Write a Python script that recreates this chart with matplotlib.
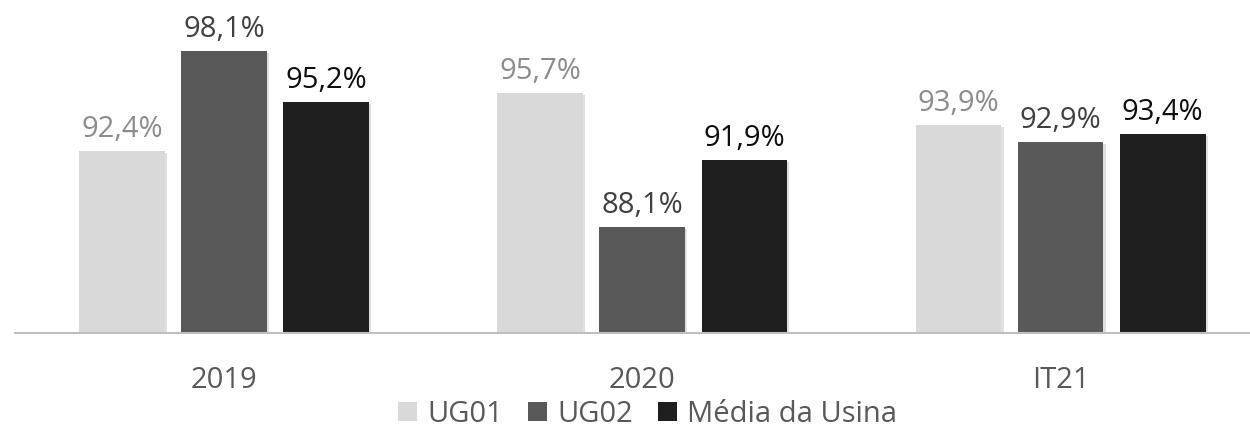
import numpy as np
import matplotlib.pyplot as plt
import matplotlib.patheffects as pe
from matplotlib.patches import Patch

plt.rcParams['font.family'] = ['Open Sans', 'DejaVu Sans']

categories = ['2019', '2020', 'IT21']
series_names = ['UG01', 'UG02', 'Média da Usina']
ug01 = [92.4, 95.7, 93.9]
ug02 = [98.1, 88.1, 92.9]
media = [95.2, 91.9, 93.4]

bar_colors = ['#d9d9d9', '#595959', '#1f1f1f']
label_colors = ['#8c8c8c', '#404040', '#0d0d0d']

fig = plt.figure(figsize=(12.5, 4.3), dpi=100)
ax = fig.add_axes([0.012, 0.2267, 0.988, 0.959 - 0.2267])

x = np.arange(len(categories))
width = 0.205
offsets = [-0.244, 0, 0.244]
shadow = [pe.SimplePatchShadow(offset=(1.5, -1.5), shadow_rgbFace='#000000', alpha=0.12), pe.Normal()]

for vals, off, col, lcol in zip([ug01, ug02, media], offsets, bar_colors, label_colors):
    bars = ax.bar(x + off, vals, width, color=col, bottom=0, zorder=2)
    for b in bars:
        b.set_path_effects(shadow)
    for xi, v in zip(x + off, vals):
        ax.text(xi, v + 0.4, f'{v:.1f}%'.replace('.', ','), ha='center', va='bottom',
                fontsize=21, color=lcol)

ax.set_ylim(82.08, 100)
ax.set_xlim(-0.5, (1250 - 223.5) / 418.5)
ax.set_xticks(x)
ax.set_xticklabels(categories, fontsize=21, color='#595959')
ax.tick_params(axis='x', length=0, pad=24)
ax.set_yticks([])
for s in ['top', 'right', 'left']:
    ax.spines[s].set_visible(False)
ax.spines['bottom'].set_color('#bfbfbf')
ax.spines['bottom'].set_linewidth(1.5)
ax.spines['bottom'].set_zorder(3)

handles = [Patch(facecolor=c, edgecolor='none') for c in bar_colors]
fig.legend(handles, series_names, loc='center', bbox_to_anchor=(0.518, 0.037), ncol=3,
           frameon=False, fontsize=21, labelcolor='#595959', handlelength=0.65,
           handleheight=0.65, handletextpad=0.35, columnspacing=0.85)

fig.savefig('out.png', dpi=100)
